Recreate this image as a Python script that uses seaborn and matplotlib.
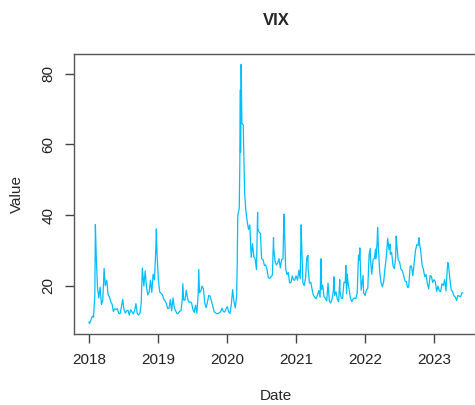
import pandas as pd
import seaborn as sns
import matplotlib.pyplot as plt
import matplotlib.dates as mdates

# VIX close values (weekly, plus the spike days)
dates_2018 = ['2018-01-02', '2018-01-05', '2018-01-12', '2018-01-19', '2018-01-26', '2018-02-02', '2018-02-05',
              '2018-02-09', '2018-02-16', '2018-02-23', '2018-03-02', '2018-03-09', '2018-03-16', '2018-03-23',
              '2018-03-29', '2018-04-06', '2018-04-13', '2018-04-20', '2018-04-27', '2018-05-04', '2018-05-11',
              '2018-05-18', '2018-05-25', '2018-06-01', '2018-06-08', '2018-06-15', '2018-06-22', '2018-06-29',
              '2018-07-06', '2018-07-13', '2018-07-20', '2018-07-27', '2018-08-03', '2018-08-10', '2018-08-17',
              '2018-08-24', '2018-08-31', '2018-09-07', '2018-09-14', '2018-09-21', '2018-09-28', '2018-10-05',
              '2018-10-11', '2018-10-19', '2018-10-26', '2018-11-02', '2018-11-09', '2018-11-16', '2018-11-23',
              '2018-11-30', '2018-12-07', '2018-12-14', '2018-12-21', '2018-12-24', '2018-12-28']
vix_2018 = [9.77, 9.22, 10.16, 11.27, 11.08, 17.31, 37.32,
            29.06, 19.46, 16.49, 19.59, 14.64, 15.80, 24.87,
            19.97, 21.49, 17.41, 16.88, 15.41, 14.77, 12.65,
            13.42, 13.22, 13.46, 12.18, 11.98, 13.77, 16.09,
            13.37, 12.18, 12.86, 13.03, 11.64, 13.16, 12.64,
            11.99, 12.86, 14.88, 12.07, 11.68, 12.12, 14.82,
            24.98, 19.89, 24.16, 19.51, 17.36, 18.14, 21.52,
            18.07, 23.23, 21.63, 30.11, 36.07, 28.34]

dates_2019 = ['2019-01-04', '2019-01-11', '2019-01-18', '2019-01-25', '2019-02-01', '2019-02-08', '2019-02-15',
              '2019-02-22', '2019-03-01', '2019-03-08', '2019-03-15', '2019-03-22', '2019-03-29', '2019-04-05',
              '2019-04-12', '2019-04-18', '2019-04-26', '2019-05-03', '2019-05-10', '2019-05-13', '2019-05-17',
              '2019-05-24', '2019-05-31', '2019-06-07', '2019-06-14', '2019-06-21', '2019-06-28', '2019-07-05',
              '2019-07-12', '2019-07-19', '2019-07-26', '2019-08-02', '2019-08-05', '2019-08-09', '2019-08-16',
              '2019-08-23', '2019-08-30', '2019-09-06', '2019-09-13', '2019-09-20', '2019-09-27', '2019-10-04',
              '2019-10-11', '2019-10-18', '2019-10-25', '2019-11-01', '2019-11-08', '2019-11-15', '2019-11-22',
              '2019-11-29', '2019-12-06', '2019-12-13', '2019-12-20', '2019-12-27']
vix_2019 = [21.38, 18.19, 17.80, 17.42, 16.14, 15.72, 14.91,
            13.51, 13.57, 16.05, 12.88, 16.48, 13.71, 12.82,
            12.01, 12.09, 12.73, 12.87, 16.04, 20.55, 15.96,
            15.85, 18.71, 16.30, 15.28, 15.40, 15.08, 13.28,
            12.39, 14.45, 12.16, 17.61, 24.59, 17.97, 18.47,
            19.87, 18.98, 15.00, 13.74, 15.32, 17.22, 17.04,
            15.58, 14.25, 12.65, 12.30, 12.07, 12.05, 12.34,
            12.62, 13.62, 12.63, 12.51, 13.43]

dates_2020 = ['2020-01-03', '2020-01-10', '2020-01-17', '2020-01-24', '2020-01-31', '2020-02-07', '2020-02-14',
              '2020-02-21', '2020-02-24', '2020-02-27', '2020-02-28', '2020-03-06', '2020-03-09', '2020-03-12',
              '2020-03-13', '2020-03-16', '2020-03-20', '2020-03-27', '2020-04-03', '2020-04-09', '2020-04-17',
              '2020-04-24', '2020-05-01', '2020-05-08', '2020-05-15', '2020-05-22', '2020-05-29', '2020-06-05',
              '2020-06-11', '2020-06-12', '2020-06-19', '2020-06-26', '2020-07-02', '2020-07-10', '2020-07-17',
              '2020-07-24', '2020-07-31', '2020-08-07', '2020-08-14', '2020-08-21', '2020-08-28', '2020-09-03',
              '2020-09-04', '2020-09-11', '2020-09-18', '2020-09-25', '2020-10-02', '2020-10-09', '2020-10-16',
              '2020-10-23', '2020-10-28', '2020-10-30', '2020-11-06', '2020-11-13', '2020-11-20', '2020-11-27',
              '2020-12-04', '2020-12-11', '2020-12-18', '2020-12-24', '2020-12-31']
vix_2020 = [14.02, 12.56, 12.10, 14.56, 18.84, 15.47, 13.68,
            17.08, 25.03, 39.16, 40.11, 41.94, 54.46, 75.47,
            57.83, 82.69, 66.04, 65.54, 46.80, 41.67, 38.15,
            35.93, 37.19, 27.98, 31.89, 28.16, 27.51, 24.52,
            40.79, 36.09, 35.12, 34.73, 27.68, 27.29, 25.68,
            25.84, 24.46, 22.21, 22.05, 22.54, 22.96, 33.60,
            30.75, 26.87, 25.83, 26.38, 27.63, 25.00, 27.41,
            27.55, 40.28, 38.02, 24.86, 23.10, 23.70, 20.84,
            20.79, 22.74, 21.57, 21.53, 22.75]

dates_2021 = ['2021-01-08', '2021-01-15', '2021-01-22', '2021-01-27', '2021-01-29', '2021-02-05', '2021-02-12',
              '2021-02-19', '2021-02-26', '2021-03-04', '2021-03-05', '2021-03-12', '2021-03-19', '2021-03-26',
              '2021-04-01', '2021-04-09', '2021-04-16', '2021-04-23', '2021-04-30', '2021-05-07', '2021-05-12',
              '2021-05-14', '2021-05-21', '2021-05-28', '2021-06-04', '2021-06-11', '2021-06-18', '2021-06-25',
              '2021-07-02', '2021-07-09', '2021-07-16', '2021-07-19', '2021-07-23', '2021-07-30', '2021-08-06',
              '2021-08-13', '2021-08-19', '2021-08-20', '2021-08-27', '2021-09-03', '2021-09-10', '2021-09-17',
              '2021-09-20', '2021-09-24', '2021-09-28', '2021-10-01', '2021-10-08', '2021-10-15', '2021-10-22',
              '2021-10-29', '2021-11-05', '2021-11-12', '2021-11-19', '2021-11-26', '2021-11-30', '2021-12-03',
              '2021-12-10', '2021-12-17', '2021-12-20', '2021-12-23', '2021-12-31']
vix_2021 = [21.56, 24.34, 21.91, 37.21, 33.09, 20.87, 19.97,
            22.05, 27.95, 28.57, 24.66, 20.69, 20.95, 18.86,
            17.33, 16.69, 16.25, 17.33, 18.61, 16.69, 27.59,
            18.81, 20.15, 16.76, 16.42, 15.65, 20.70, 15.62,
            15.07, 16.18, 18.45, 22.50, 17.20, 18.24, 16.15,
            15.45, 21.67, 18.56, 16.39, 16.41, 20.95, 20.81,
            25.71, 17.75, 23.25, 21.15, 18.77, 16.30, 15.43,
            16.26, 16.48, 16.29, 17.91, 28.62, 27.19, 30.67,
            18.69, 21.57, 22.87, 17.96, 17.22]

dates_2022 = ['2022-01-07', '2022-01-14', '2022-01-21', '2022-01-27', '2022-01-28', '2022-02-04', '2022-02-11',
              '2022-02-18', '2022-02-24', '2022-02-25', '2022-03-04', '2022-03-07', '2022-03-11', '2022-03-18',
              '2022-03-25', '2022-04-01', '2022-04-08', '2022-04-14', '2022-04-22', '2022-04-29', '2022-05-06',
              '2022-05-12', '2022-05-13', '2022-05-20', '2022-05-27', '2022-06-03', '2022-06-10', '2022-06-13',
              '2022-06-17', '2022-06-24', '2022-07-01', '2022-07-08', '2022-07-15', '2022-07-22', '2022-07-29',
              '2022-08-05', '2022-08-12', '2022-08-18', '2022-08-26', '2022-09-02', '2022-09-09', '2022-09-16',
              '2022-09-23', '2022-09-30', '2022-10-07', '2022-10-12', '2022-10-14', '2022-10-21', '2022-10-28',
              '2022-11-04', '2022-11-11', '2022-11-18', '2022-11-25', '2022-12-02', '2022-12-09', '2022-12-16',
              '2022-12-23', '2022-12-30']
vix_2022 = [18.76, 19.19, 28.85, 30.49, 27.66, 23.22, 27.36,
            27.75, 30.32, 27.59, 31.98, 36.45, 30.75, 23.87,
            20.81, 19.63, 21.16, 24.37, 28.21, 33.40, 30.19,
            31.77, 28.87, 29.43, 25.72, 24.79, 27.75, 34.02,
            31.13, 27.23, 26.70, 24.64, 24.23, 23.03, 21.33,
            21.15, 19.53, 19.56, 25.56, 25.47, 22.79, 26.30,
            29.92, 31.62, 31.36, 33.57, 32.02, 29.69, 25.75,
            24.55, 22.52, 23.12, 20.50, 19.06, 22.83, 22.62,
            20.87, 21.67]

dates_2023 = ['2023-01-06', '2023-01-13', '2023-01-20', '2023-01-27', '2023-02-03', '2023-02-10', '2023-02-17',
              '2023-02-24', '2023-03-03', '2023-03-10', '2023-03-13', '2023-03-17', '2023-03-24', '2023-03-31',
              '2023-04-06', '2023-04-14', '2023-04-21', '2023-04-28', '2023-05-05', '2023-05-12', '2023-05-19',
              '2023-05-26', '2023-05-31']
vix_2023 = [21.13, 18.35, 19.85, 18.51, 18.33, 20.53, 20.02,
            21.67, 18.49, 24.80, 26.52, 25.51, 21.74, 18.70,
            18.40, 17.07, 16.77, 15.78, 17.19, 17.03, 16.81,
            17.95, 17.94]

all_dates = dates_2018 + dates_2019 + dates_2020 + dates_2021 + dates_2022 + dates_2023
all_vix = vix_2018 + vix_2019 + vix_2020 + vix_2021 + vix_2022 + vix_2023
df = pd.DataFrame({'Date': pd.to_datetime(all_dates), 'Value': all_vix})

sns.set_style('white')
plt.rcParams['font.family'] = ['Liberation Sans', 'DejaVu Sans']

fig = plt.figure(figsize=(4.75, 4.05), dpi=100)
ax = fig.add_axes([0.1558, 0.1753, 0.85, 0.6914])
sns.lineplot(data=df, x='Date', y='Value', ax=ax, color='#00BFFF', linewidth=0.9)

# R-style 4% padding around the data range
xnum = mdates.date2num(df['Date'])
xpad = 0.04 * (xnum.max() - xnum.min())
ax.set_xlim(xnum.min() - xpad, xnum.max() + xpad)
ypad = 0.04 * (df['Value'].max() - df['Value'].min())
ax.set_ylim(df['Value'].min() - ypad, df['Value'].max() + ypad)

ax.xaxis.set_major_locator(mdates.YearLocator())
ax.xaxis.set_major_formatter(mdates.DateFormatter('%Y'))
ax.set_yticks([20, 40, 60, 80])
for lab in ax.get_yticklabels():
    lab.set_rotation(90)
    lab.set_va('center')

ax.tick_params(axis='both', direction='out', length=6.5, width=1, color='#444444',
               labelsize=11, labelcolor='#222222', pad=7, bottom=True, left=True)
for sp in ax.spines.values():
    sp.set_color('#555555')
    sp.set_linewidth(1)

ax.set_title('VIX', fontsize=12, fontweight='bold', pad=21)
ax.set_xlabel('Date', fontsize=11)
ax.set_ylabel('Value', fontsize=11)
ax.xaxis.set_label_coords((276 - 74) / 404, -0.195)
ax.yaxis.set_label_coords(-0.125, 0.5)

fig.savefig('out.png', dpi=100)
